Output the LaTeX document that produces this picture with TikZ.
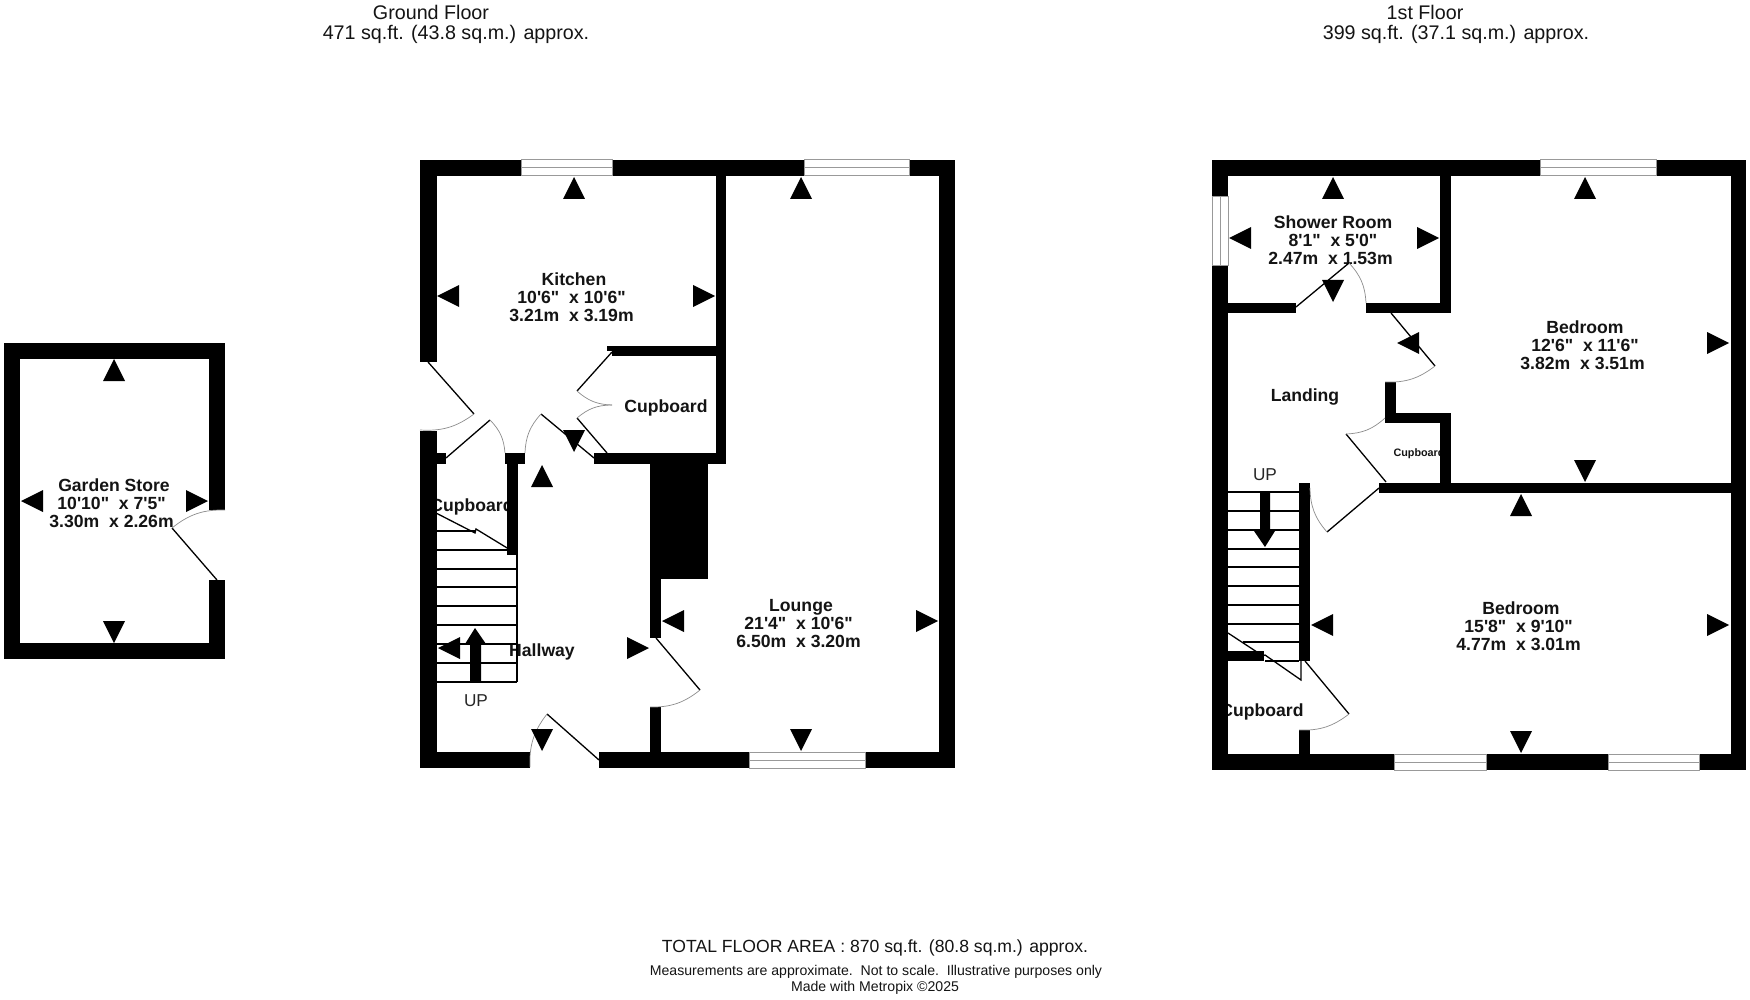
\documentclass[tikz,border=0pt]{standalone}
\usepackage{fontspec}
\setmainfont{Liberation Sans}[Ligatures=TeXOff]
\newcommand{\tsp}{\hspace*{0.278em}}
\newcommand{\by}{\ \ x }
\newcommand{\doorleaf}[4]{\draw[leaf] (#1) -- (#2); \draw[swing] (#2) to[bend #4=20] (#3);}

\begin{document}
\begin{tikzpicture}[x=0.5pt,y=-0.5pt]
	\tikzset{wall/.style={fill=black}}
	\tikzset{pane/.style={fill=white,draw=black!40,line width=0.5pt}}
	\tikzset{leaf/.style={line width=0.65pt}}
	\tikzset{swing/.style={draw=black!45,line width=0.35pt}}
	\tikzset{tread/.style={line width=0.55pt}}
	\tikzset{room/.style={inner sep=0pt,align=center,text=black!92,font=\fontsize{8.8}{9}\selectfont\bfseries}}
	\tikzset{tiny/.style={inner sep=0pt,text=black!92,font=\fontsize{5.4}{6}\selectfont\bfseries}}
	\tikzset{caption/.style={inner sep=0pt,text=black!92,font=\fontsize{9.85}{10}\selectfont}}
	\tikzset{total/.style={inner sep=0pt,text=black!92,font=\fontsize{8.8}{9}\selectfont}}
	\tikzset{small/.style={inner sep=0pt,text=black!92,font=\fontsize{7.05}{8}\selectfont}}
	\tikzset{uplabel/.style={inner sep=0pt,text=black!85,font=\fontsize{8.6}{9}\selectfont}}
	\useasboundingbox (0,0) rectangle (1750,1000);
	\fill[white] (0,0) rectangle (1750,1000);

	\node[caption] (groundname) at (431,12) {Ground Floor};
	\node[caption] (groundarea) at (456,34) {471 sq.ft. (43.8 sq.m.) approx.};
	\node[caption] (firstname) at (1425,12) {1st Floor};
	\node[caption] (firstarea) at (1456,34) {399 sq.ft. (37.1 sq.m.) approx.};
	\node[total] (totalarea) at (875,948) {TOTAL FLOOR AREA : 870 sq.ft. (80.8 sq.m.) approx.};
	\node[small] (disclaimer) at (876,972) {Measurements are approximate.\ \ Not to scale.\ \ Illustrative purposes only};
	\node[small] (madewith) at (875,988) {Made with Metropix ©2025};

	\node[room] (storelabel) at (114,503) {Garden Store\\10'10"\by 7'5"\tsp\tsp\\3.30m\by 2.26m\tsp};
	\node[room] (kitchenlabel) at (574,297) {Kitchen\\10'6"\by 10'6"\tsp\tsp\\3.21m\by 3.19m\tsp};
	\node[room] (loungelabel) at (801,624) {Lounge\\21'4"\by 10'6"\tsp\tsp\\6.50m\by 3.20m\tsp};
	\node[room] (showerlabel) at (1333,240) {Shower Room\\8'1"\by 5'0"\tsp\\2.47m\by 1.53m\tsp};
	\node[room] (bedonelabel) at (1585,345) {Bedroom\\12'6"\by 11'6"\tsp\\3.82m\by 3.51m\tsp};
	\node[room] (bedtwolabel) at (1521,626) {Bedroom\\15'8"\by 9'10"\tsp\tsp\\4.77m\by 3.01m\tsp};
	\node[room] (hallwaylabel) at (542,651.5) {Hallway};
	\node[room] (landinglabel) at (1305,396.5) {Landing};
	\node[room] (cupboarda) at (666,408) {Cupboard};
	\node[room] (cupboardb) at (472,507) {Cupboard};
	\node[room] (cupboardc) at (1262,712) {Cupboard};
	\node[tiny] (cupboardd) at (1419,454) {Cupboard};
	\node[uplabel] (upground) at (476,701) {UP};
	\node[uplabel] (upfirst) at (1265,475) {UP};

	\foreach \xa/\ya/\xb/\yb in {
		4/343/225/359, 4/643/225/659, 4/343/20/659, 209/343/225/510, 209/580/225/659,
		420/160/955/176, 420/160/437/362, 420/431/437/768, 420/752/530/768, 599/752/955/768,
		939/160/955/768, 716/160/726/464, 607/346/716/351, 612/351/716/356, 594/453/726/464,
		650/464/661/638, 650/707/661/752, 661/464/708/579, 437/453/446/464, 505/453/525/464, 507/464/518/555,
		1212/160/1746/176, 1212/754/1746/770, 1212/160/1228/770, 1731/160/1746/770,
		1440/160/1451/313, 1228/303/1296/313, 1366/303/1451/313, 1385/382/1396/423, 1385/413/1451/423,
		1440/413/1451/493, 1379/483/1731/493, 1299/483/1310/661, 1228/651/1264/661, 1299/730/1310/754}
		\fill[wall] (\xa,\ya) rectangle (\xb,\yb);

	\foreach \xa/\xb/\ya in {521/612/160, 804/909/160, 749/865/752, 1540/1656/160, 1394/1486/754, 1608/1699/754} {
		\draw[pane] (\xa,\ya) rectangle (\xb,\ya+16);
		\draw[pane] (\xa,\ya+8) -- (\xb,\ya+8);
	}
	\draw[pane] (1212,197) rectangle (1228,266);
	\draw[pane] (1220,197) -- (1220,266);

	\doorleaf{217,580}{172,528}{225,510}{left}
	\doorleaf{428,362}{474,414}{420,430}{left}
	\doorleaf{446,458}{490,420}{505,453}{left}
	\doorleaf{594,458}{541,414}{525,453}{right}
	\doorleaf{612,352}{577,391}{612,405}{right}
	\doorleaf{607,453}{577,418}{612,405}{left}
	\doorleaf{656,638}{700,690}{650,707}{left}
	\doorleaf{599,760}{547,714}{530,767}{right}
	\doorleaf{1296,307}{1349,263}{1366,303}{left}
	\doorleaf{1391,313}{1435,366}{1385,382}{left}
	\doorleaf{1386,482}{1346,434}{1385,418}{right}
	\doorleaf{1379,488}{1327,532}{1310,488}{left}
	\doorleaf{1305,661}{1349,714}{1299,730}{left}

	\foreach \ya in {550,569,587,606,625,644,663,682}
		\draw[tread] (436,\ya) -- (517,\ya);
	\draw[tread] (436,531) -- (475,531);
	\draw[tread] (517,555) -- (517,682);
	\draw[leaf] (436,513) -- (475,533) -- (476,529) -- (517,554);
	\fill (470,682) -- (470,644) -- (465,644) -- (475,628) -- (486,644) -- (481,644) -- (481,682) -- cycle;

	\foreach \ya in {492,511,530,549,567,586,605,624}
		\draw[tread] (1228,\ya) -- (1299,\ya);
	\draw[tread] (1243,642) -- (1299,642);
	\draw[tread] (1265,661) -- (1299,661);
	\draw[leaf] (1228,633) -- (1263,656) -- (1265,655) -- (1301,680) -- (1301,661);
	\fill (1260,492) -- (1260,531) -- (1254,531) -- (1265,547) -- (1275,531) -- (1270,531) -- (1270,492) -- cycle;

	\foreach \xa/\ya in {114/359, 574/177, 801/177, 542/465, 1333/177, 1585/177, 1521/494}
		\fill (\xa,\ya) -- ++(-11,22) -- ++(22,0) -- cycle;
	\foreach \xa/\ya in {114/643, 574/452, 801/751, 542/751, 1333/302, 1585/482, 1521/753}
		\fill (\xa,\ya) -- ++(-11,-22) -- ++(22,0) -- cycle;
	\foreach \xa/\ya in {21/501, 437/296, 662/621, 438/648, 1229/238, 1397/343, 1311/625}
		\fill (\xa,\ya) -- ++(22,-11) -- ++(0,22) -- cycle;
	\foreach \xa/\ya in {208/501, 715/296, 938/621, 649/648, 1439/238, 1729/343, 1729/625}
		\fill (\xa,\ya) -- ++(-22,-11) -- ++(0,22) -- cycle;
\end{tikzpicture}
\end{document}
